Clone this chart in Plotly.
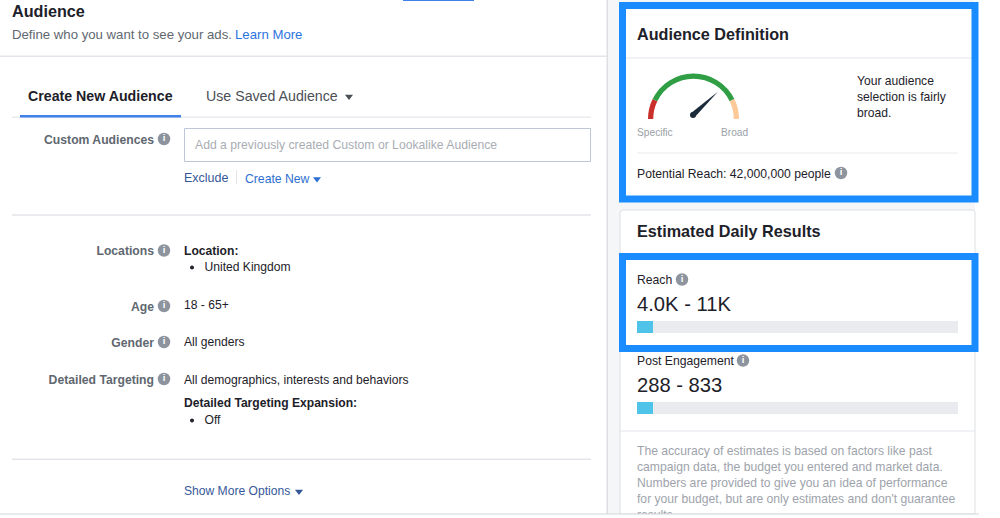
import math
import plotly.graph_objects as go

# gauge, in degrees of the half circle
gauge_labels = ['Specific', 'Fit', 'Broad', 'hidden']
gauge_sizes = [26, 128, 26, 180]
gauge_colors = ['#c9302c', '#2f9e44', '#fdc998', 'rgba(0,0,0,0)']
needle_deg = 43

# progress bars, percent of the track
result_names = ['Reach', 'Post Engagement']
result_share = [5, 5]
result_ranges = ['4.0K - 11K', '288 - 833']

W = 1000
H = 518
FONT = 'Liberation Sans, Arial, sans-serif'

fig = go.Figure()


def rect(x0, y0, x1, y1, fill='rgba(0,0,0,0)', line=None, width=0, layer='below'):
    fig.add_shape(type='rect', xref='x', yref='y', x0=x0, y0=y0, x1=x1, y1=y1,
                  fillcolor=fill, line=dict(color=line, width=width), layer=layer)


def text(xs, ys, labels, color, size, bold=False, pos='middle right', dy=1):
    fig.add_trace(go.Scatter(x=xs, y=[y + dy for y in ys], text=labels, mode='text', textposition=pos,
                             textfont=dict(family=FONT, color=color, size=size,
                                           weight='bold' if bold else 'normal'),
                             hoverinfo='skip', cliponaxis=False))


def markers(xs, ys, symbol, color, size):
    fig.add_trace(go.Scatter(x=xs, y=ys, mode='markers',
                             marker=dict(symbol=symbol, color=color, size=size, line=dict(width=0)),
                             hoverinfo='skip', cliponaxis=False))


# backgrounds and lines
rect(608, 0, 975, 514, fill='#f5f6f7')
rect(620, 9, 975, 197, fill='#ffffff')
fig.add_shape(type='path', xref='x', yref='y', layer='below', fillcolor='#ffffff',
              line=dict(color='#dddfe2', width=1),
              path='M 623 210 L 972 210 Q 975 210 975 213 L 975 514 L 620 514 L 620 213 Q 620 210 623 210 Z')
rect(403, 0, 474, 1, fill='#4080e8')
rect(0, 55.5, 607, 57, fill='#e4e6eb')
rect(606.5, 0, 608, 514, fill='#dddfe2')
rect(12, 116.5, 591, 118, fill='#e9ebee')
rect(20, 115, 181, 117.5, fill='#4080e8')
rect(184.5, 128.5, 590.5, 161.5, fill='#ffffff', line='#bdc7d8', width=1)
rect(236, 170, 236.8, 184, fill='#dddfe2')
rect(12, 214, 591, 216, fill='#e9ebee')
rect(12, 458.5, 591, 460, fill='#e4e6eb')
rect(620, 57.5, 972, 58.5, fill='#e4e6eb')
rect(637, 152.5, 958, 153.5, fill='#e9ebee')
rect(620, 430.5, 975, 431.5, fill='#e4e6eb')

# left column
text([12], [12], ['Audience'], '#1d2129', 16.2, bold=True)
text([12], [34.5], ['Define who you want to see your ads.'], '#606770', 13.2)
text([235], [34.5], ['Learn More'], '#2d74e0', 13.2)
text([28], [96], ['Create New Audience'], '#1d2129', 14.2, bold=True)
text([206], [96], ['Use Saved Audience'], '#4b4f56', 14.2)
text([195], [145], ['Add a previously created Custom or Lookalike Audience'], '#a9adb3', 12.2)
text([184], [178], ['Exclude'], '#365899', 12.5)
text([245], [179], ['Create New'], '#2d6fd0', 12.2)
text([154, 154, 154, 154, 154], [139.5, 251, 307, 342.5, 379.5],
     ['Custom Audiences', 'Locations', 'Age', 'Gender', 'Detailed Targeting'],
     '#606770', 12.2, bold=True, pos='middle left')
text([184, 184], [251, 403], ['Location:', 'Detailed Targeting Expansion:'], '#1d2129', 12.1, bold=True)
text([204.5, 204.5, 184, 184, 184], [267, 420, 305, 342, 379.5],
     ['United Kingdom', 'Off', '18 - 65+', 'All genders', 'All demographics, interests and behaviors'],
     '#1d2129', 12.1)
text([184], [491], ['Show More Options'], '#365899', 12.1)
markers([192, 192], [267.5, 420.5], 'circle', '#1d2129', 4)
markers([349, 317, 299], [96.5, 179, 491.5], 'triangle-down', '#4b4f56', 7)
fig.data[-1].marker.color = ['#4b4f56', '#2d6fd0', '#365899']

# right column
text([637, 637], [35, 232], ['Audience Definition', 'Estimated Daily Results'], '#1d2129', 16.2, bold=True)
text([637, 721], [132, 132], ['Specific', 'Broad'], '#9a9fa6', 10.2)
text([857, 857, 857], [81, 97, 113], ['Your audience', 'selection is fairly', 'broad.'], '#1d2129', 12.1)
text([637], [173.5], ['Potential Reach: 42,000,000 people'], '#1d2129', 12.2)
text([637, 637], [280, 361], result_names, '#1d2129', 12.2)
text([637, 637], [305, 385.5], result_ranges, '#1d2129', 20.2)
text([637] * 5, [451, 467, 483, 499, 515],
     ['The accuracy of estimates is based on factors like past',
      'campaign data, the budget you entered and market data.',
      'Numbers are provided to give you an idea of performance',
      "for your budget, but are only estimates and don't guarantee",
      'results.'], '#9ea3ab', 12.15)

# info icons
icon_x = [164, 164, 164, 164, 164, 841, 682, 743]
icon_y = [139, 250.5, 306, 342, 379, 173, 279.5, 360.5]
markers(icon_x, icon_y, 'circle', '#8d949e', 12.5)
text(icon_x, icon_y, ['i'] * len(icon_x), '#ffffff', 9.5, bold=True, pos='middle center', dy=0)

# needle, tapered from the hub to the tip
hub_x, hub_y = 693, 115
needle_len = 34
a = math.radians(needle_deg)
nx = [hub_x + 2.8 * math.sin(a), hub_x + needle_len * math.cos(a), hub_x - 2.8 * math.sin(a)]
ny = [hub_y + 2.8 * math.cos(a), hub_y - needle_len * math.sin(a), hub_y - 2.8 * math.cos(a)]
fig.add_trace(go.Scatter(x=nx, y=ny, mode='lines', fill='toself', fillcolor='#1c2b3a',
                         line=dict(width=0), hoverinfo='skip'))
markers([hub_x], [hub_y], 'circle', '#1c2b3a', 6)

# gauge arc
fig.add_trace(go.Pie(labels=gauge_labels, values=gauge_sizes, hole=0.885, sort=False,
                     direction='clockwise', rotation=270, textinfo='none', hoverinfo='skip',
                     marker=dict(colors=gauge_colors, line=dict(width=0)),
                     domain=dict(x=[648 / W, 739 / W], y=[1 - 164.5 / H, 1 - 73.5 / H])))

# progress bars
bar_tops = [321, 402]
for i, share in enumerate(result_share):
    n = i + 2
    top = bar_tops[i]
    fig.add_trace(go.Bar(y=[result_names[i]], x=[100], orientation='h', marker=dict(color='#e9ebee', line=dict(width=0)),
                         hoverinfo='skip', width=1, xaxis=f'x{n}', yaxis=f'y{n}'))
    fig.add_trace(go.Bar(y=[result_names[i]], x=[share], orientation='h', marker=dict(color='#4fc3e8', line=dict(width=0)),
                         hoverinfo='skip', width=1, xaxis=f'x{n}', yaxis=f'y{n}'))
    hidden = dict(visible=False, fixedrange=True)
    fig.update_layout({
        f'xaxis{n}': dict(domain=[637 / W, 958 / W], range=[0, 100], anchor=f'y{n}', **hidden),
        f'yaxis{n}': dict(domain=[1 - (top + 12) / H, 1 - top / H], anchor=f'x{n}', **hidden),
    })

# highlight boxes and page edge go over everything
rect(622.5, 5.5, 975, 199, line='#1a8cff', width=7, layer='above')
rect(622.5, 256.5, 975, 348.5, line='#1a8cff', width=7, layer='above')
rect(0, 514, W, H, fill='#ffffff', layer='above')
rect(0, 513.5, 979, 514.5, fill='#d4d6da', layer='above')

fig.update_layout(
    width=W, height=H, margin=dict(l=0, r=0, t=0, b=0, pad=0),
    paper_bgcolor='#ffffff', plot_bgcolor='rgba(0,0,0,0)',
    showlegend=False, barmode='overlay', bargap=0, hovermode=False,
    xaxis=dict(range=[0, W], visible=False, domain=[0, 1], fixedrange=True),
    yaxis=dict(range=[H, 0], visible=False, domain=[0, 1], fixedrange=True),
)

fig.write_html("out.html", config=dict(displayModeBar=False),
               post_script="document.body.style.margin='0';")
